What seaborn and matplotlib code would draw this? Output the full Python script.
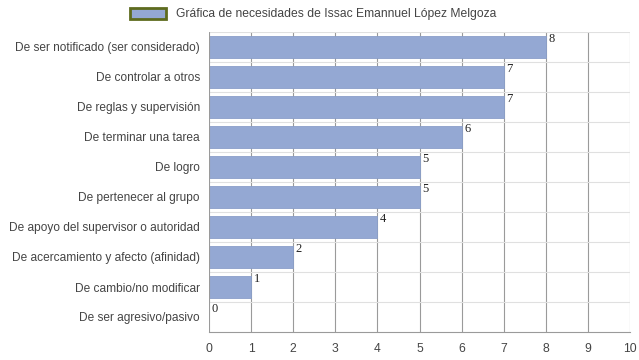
import matplotlib
matplotlib.use("Agg")
import matplotlib.pyplot as plt
import matplotlib.patches as mpatches
import seaborn as sns
import pandas as pd

# Datos de la gráfica
categorias = [
    "De ser notificado (ser considerado)",
    "De controlar a otros",
    "De reglas y supervisión",
    "De terminar una tarea",
    "De logro",
    "De pertenecer al grupo",
    "De apoyo del supervisor o autoridad",
    "De acercamiento y afecto (afinidad)",
    "De cambio/no modificar",
    "De ser agresivo/pasivo",
]
valores = [8, 7, 7, 6, 5, 5, 4, 2, 1, 0]
ticks_x = list(range(0, 11))
titulo_serie = "Gráfica de necesidades de Issac Emannuel López Melgoza"

sns.set_theme(style="white")
plt.rcParams['font.family'] = ['Liberation Sans', 'DejaVu Sans']

df = pd.DataFrame({"categoria": categorias, "valor": valores})

fig = plt.figure(figsize=(6.39, 3.6), dpi=100)
ax = fig.add_axes([209 / 639, 28 / 360, (630 - 209) / 639, 300 / 360])

color_barra = "#94a8d3"
sns.barplot(data=df, x="valor", y="categoria", orient="h", color=color_barra,
            width=0.72, saturation=1, edgecolor="#8a9ec9", linewidth=0.6, ax=ax, zorder=3)

ax.set_xlim(0, 10)
ax.set_ylim(len(categorias) - 0.5, -0.5)
ax.set_xticks(ticks_x)
ax.set_xlabel("")
ax.set_ylabel("")

# líneas de cuadrícula
for x in ticks_x[1:]:
    ax.axvline(x, color="#9a9a9a", linewidth=0.8, zorder=1)
for i in range(len(categorias)):
    ax.axhline(i - 0.5, color="#e0e0e0", linewidth=0.8, zorder=1)

for s in ["top", "right", "left"]:
    ax.spines[s].set_visible(False)
ax.spines["bottom"].set_color("#9a9a9a")
ax.spines["bottom"].set_linewidth(0.8)
ax.axvline(0, color="#9a9a9a", linewidth=0.8, zorder=4)

ax.tick_params(axis="x", labelsize=8.7, colors="#444444", length=4, width=0.8, pad=4)
ax.tick_params(axis="y", labelsize=8.6, colors="#444444", length=0, pad=6.5)
for lbl in ax.get_xticklabels() + ax.get_yticklabels():
    lbl.set_color("#444444")

# etiquetas de valor
for i, v in enumerate(valores):
    ax.text(v + 0.06, i - 0.26, str(v), family="Liberation Serif", fontsize=9,
            color="#222222", ha="left", va="center", zorder=5)

handle = mpatches.Patch(facecolor=color_barra, edgecolor="#5e6b1e", linewidth=2)
fig.legend(handles=[handle], labels=[titulo_serie], loc="center",
           bbox_to_anchor=(0.49, 1 - 14 / 360), frameon=False, fontsize=8.7,
           handlelength=3.0, handleheight=1.1, handletextpad=0.8,
           labelcolor="#444444")

fig.savefig("out.png", dpi=100)
